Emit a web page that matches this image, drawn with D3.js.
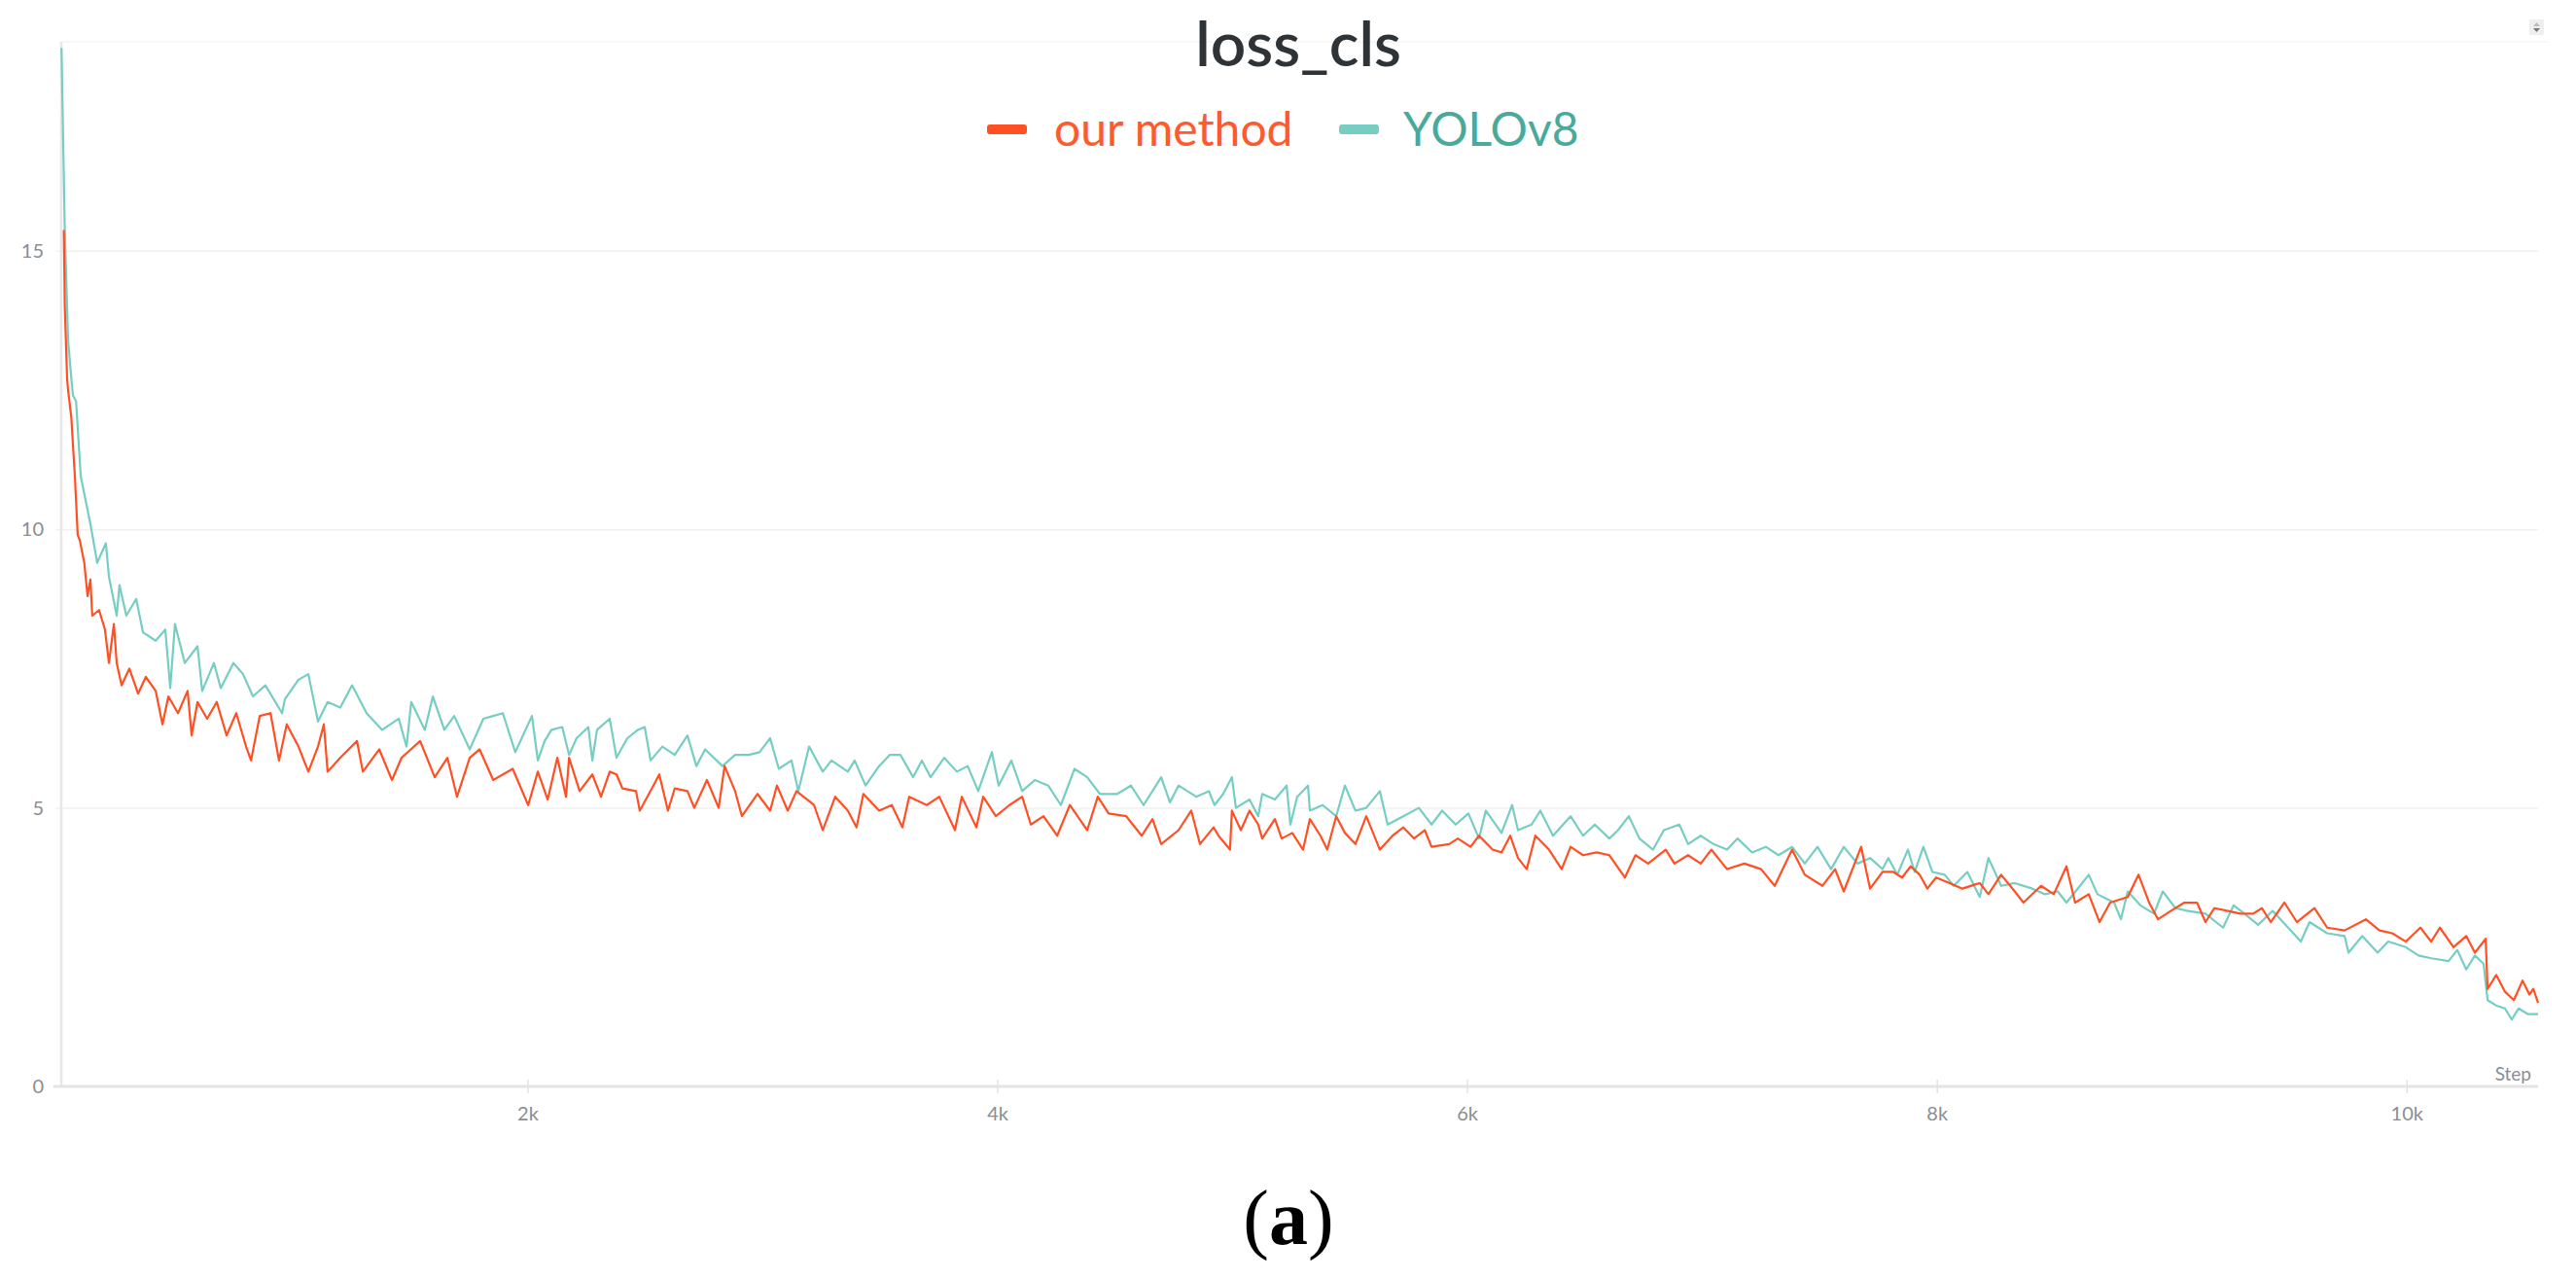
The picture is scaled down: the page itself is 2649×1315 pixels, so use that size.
<!DOCTYPE html>
<html><head><meta charset="utf-8">
<script src="https://cdn.jsdelivr.net/npm/d3@7"></script>
<style>html,body{margin:0;padding:0;background:#fff;} svg{display:block}</style>
</head><body>
<svg id="chart" width="2649" height="1315"></svg>
<script>
const chartTitle = "loss_cls";
const seriesNames = ["our method", "YOLOv8"];
const lineColors = ["#ff5024", "#76cec2"];
const legendTextColors = ["#ff5a2e", "#49a99b"];
const yTicks = [0, 5, 10, 15];
const xTicks = [2000, 4000, 6000, 8000, 10000];
const xTickLabels = ["2k", "4k", "6k", "8k", "10k"];
const xAxisLabel = "Step";

// [step, value]
const ourMethod = [
[26,15.37],[30,14.0],[40,12.7],[44,12.5],[58,12.0],[65,11.5],[73,10.95],[85,9.9],[94,9.8],[113,9.4],
[127,8.8],[139,9.1],[147,8.45],[176,8.55],[201,8.2],[218,7.6],[239,8.3],[251,7.6],[272,7.2],[305,7.5],
[342,7.05],[375,7.35],[417,7.1],[446,6.5],[471,7.0],[512,6.7],[553,7.1],[570,6.3],[595,6.9],[636,6.6],
[677,6.9],[719,6.3],[760,6.7],[802,6.1],[823,5.85],[860,6.65],[906,6.7],[942,5.85],[975,6.5],[1025,6.1],
[1067,5.65],[1108,6.1],[1133,6.5],[1149,5.65],[1203,5.9],[1274,6.2],[1299,5.65],[1369,6.05],[1423,5.5],[1464,5.9],
[1543,6.2],[1605,5.55],[1659,5.9],[1700,5.2],[1754,5.9],[1796,6.05],[1854,5.5],[1937,5.7],[2003,5.05],[2044,5.65],
[2086,5.15],[2127,5.9],[2164,5.2],[2177,5.9],[2222,5.3],[2276,5.6],[2313,5.2],[2350,5.65],[2379,5.6],[2404,5.35],
[2462,5.3],[2478,4.95],[2536,5.4],[2561,5.6],[2598,4.95],[2627,5.35],[2681,5.3],[2710,5.0],[2764,5.5],[2814,5.0],
[2839,5.75],[2884,5.3],[2913,4.85],[2979,5.25],[3033,4.95],[3062,5.4],[3108,4.95],[3145,5.3],[3220,5.05],[3257,4.6],
[3310,5.2],[3364,4.95],[3401,4.65],[3430,5.25],[3497,4.95],[3551,5.05],[3596,4.65],[3625,5.2],[3700,5.05],[3753,5.2],
[3820,4.6],[3849,5.2],[3911,4.65],[3940,5.2],[3994,4.85],[4052,5.05],[4106,5.2],[4143,4.7],[4197,4.85],[4255,4.5],
[4309,5.05],[4383,4.6],[4428,5.2],[4474,4.9],[4549,4.85],[4615,4.5],[4661,4.8],[4698,4.35],[4772,4.6],[4826,4.95],
[4863,4.35],[4921,4.65],[4942,4.5],[4991,4.25],[4999,4.95],[5037,4.6],[5074,4.95],[5111,4.7],[5128,4.45],[5182,4.8],
[5211,4.45],[5256,4.55],[5302,4.25],[5331,4.8],[5376,4.5],[5405,4.25],[5443,4.85],[5480,4.55],[5525,4.35],[5571,4.85],
[5629,4.25],[5683,4.5],[5729,4.65],[5774,4.45],[5820,4.6],[5849,4.3],[5924,4.35],[5961,4.45],[6015,4.3],[6051,4.5],
[6109,4.25],[6147,4.2],[6184,4.5],[6217,4.1],[6254,3.9],[6291,4.5],[6349,4.25],[6403,3.9],[6441,4.3],[6494,4.15],
[6552,4.2],[6606,4.15],[6672,3.75],[6717,4.15],[6771,4.0],[6846,4.25],[6883,4.0],[6941,4.15],[6995,4.0],[7040,4.25],
[7107,3.9],[7181,4.0],[7252,3.9],[7310,3.6],[7384,4.25],[7438,3.8],[7513,3.6],[7567,3.9],[7604,3.5],[7678,4.3],
[7716,3.55],[7769,3.85],[7815,3.85],[7852,3.75],[7889,3.95],[7927,3.8],[7960,3.55],[7997,3.75],[8055,3.65],[8109,3.55],
[8183,3.65],[8220,3.45],[8274,3.8],[8332,3.5],[8369,3.3],[8444,3.6],[8498,3.45],[8552,3.95],[8589,3.3],[8647,3.45],
[8693,2.95],[8738,3.3],[8813,3.4],[8859,3.8],[8904,3.3],[8942,3.0],[8996,3.15],[9054,3.3],[9108,3.3],[9144,2.95],
[9182,3.2],[9240,3.15],[9293,3.1],[9347,3.1],[9384,3.2],[9422,2.95],[9480,3.3],[9533,2.95],[9608,3.2],[9662,2.85],
[9736,2.8],[9827,3.0],[9885,2.8],[9939,2.75],[9997,2.6],[10059,2.85],[10105,2.6],[10142,2.85],[10200,2.5],[10254,2.7],
[10291,2.4],[10337,2.65],[10345,1.75],[10382,2.0],[10419,1.7],[10457,1.55],[10494,1.9],[10523,1.65],[10540,1.75],[10560,1.5]
];

const yolov8 = [
[16,18.64],[30,15.37],[44,13.4],[58,12.7],[65,12.4],[78,12.3],[98,10.95],[139,10.1],[168,9.4],[205,9.75],
[218,9.15],[251,8.45],[263,9.0],[292,8.45],[334,8.75],[363,8.15],[417,8.0],[458,8.2],[479,7.15],[499,8.3],
[541,7.6],[595,7.9],[615,7.1],[665,7.6],[694,7.15],[748,7.6],[789,7.4],[831,7.0],[884,7.2],[955,6.7],
[967,6.95],[1025,7.3],[1067,7.4],[1108,6.55],[1149,6.9],[1203,6.8],[1253,7.2],[1315,6.7],[1381,6.4],[1452,6.6],
[1485,6.1],[1505,6.9],[1563,6.4],[1597,7.0],[1646,6.4],[1688,6.65],[1754,6.05],[1812,6.6],[1895,6.7],[1948,6.0],
[2019,6.65],[2044,5.85],[2073,6.2],[2102,6.4],[2148,6.45],[2177,5.95],[2209,6.25],[2259,6.45],[2276,5.85],[2296,6.4],
[2350,6.6],[2379,5.9],[2425,6.25],[2470,6.4],[2499,6.45],[2524,5.85],[2574,6.1],[2627,5.95],[2681,6.3],[2719,5.75],
[2756,6.05],[2830,5.75],[2884,5.95],[2942,5.95],[2988,6.0],[3033,6.25],[3070,5.7],[3124,5.85],[3153,5.3],[3199,6.1],
[3257,5.65],[3294,5.85],[3364,5.65],[3393,5.85],[3439,5.4],[3497,5.75],[3542,5.95],[3588,5.95],[3642,5.55],[3679,5.85],
[3716,5.55],[3774,5.9],[3828,5.65],[3874,5.75],[3919,5.3],[3977,6.0],[4006,5.4],[4060,5.85],[4106,5.3],[4160,5.5],
[4217,5.4],[4271,5.05],[4329,5.7],[4383,5.55],[4437,5.25],[4511,5.25],[4569,5.4],[4623,5.05],[4698,5.55],[4735,5.1],
[4772,5.4],[4847,5.2],[4901,5.3],[4925,5.05],[4962,5.25],[4999,5.55],[5016,5.0],[5074,5.15],[5111,4.85],[5128,5.25],
[5182,5.15],[5232,5.4],[5248,4.7],[5277,5.2],[5323,5.4],[5331,4.95],[5385,5.05],[5443,4.85],[5480,5.4],[5525,4.95],
[5571,5.0],[5629,5.3],[5662,4.7],[5729,4.85],[5795,5.0],[5849,4.7],[5894,4.95],[5952,4.7],[6006,4.9],[6051,4.45],
[6080,4.95],[6147,4.55],[6192,5.05],[6217,4.6],[6275,4.7],[6312,4.95],[6366,4.5],[6441,4.85],[6494,4.5],[6544,4.7],
[6606,4.45],[6643,4.6],[6689,4.85],[6734,4.45],[6792,4.25],[6838,4.6],[6904,4.7],[6941,4.35],[6995,4.5],[7049,4.35],
[7107,4.25],[7152,4.45],[7214,4.2],[7272,4.3],[7326,4.15],[7384,4.3],[7438,4.0],[7492,4.3],[7550,3.9],[7604,4.3],
[7662,4.0],[7716,4.1],[7769,3.9],[7794,4.1],[7832,3.8],[7877,4.25],[7906,3.85],[7943,4.3],[7981,3.85],[8034,3.8],
[8072,3.6],[8130,3.85],[8183,3.4],[8220,4.1],[8274,3.6],[8332,3.65],[8407,3.55],[8461,3.45],[8515,3.5],[8552,3.3],
[8610,3.6],[8647,3.8],[8684,3.45],[8755,3.3],[8784,3.0],[8813,3.5],[8867,3.25],[8925,3.1],[8962,3.5],[9016,3.2],
[9070,3.15],[9144,3.1],[9219,2.85],[9264,3.25],[9310,3.1],[9368,2.9],[9430,3.15],[9496,2.85],[9550,2.6],[9587,2.95],
[9662,2.75],[9736,2.7],[9753,2.4],[9811,2.7],[9877,2.4],[9922,2.6],[9997,2.5],[10051,2.35],[10105,2.3],[10179,2.25],
[10216,2.45],[10254,2.1],[10291,2.35],[10328,2.2],[10345,1.55],[10382,1.45],[10419,1.4],[10448,1.2],[10477,1.4],[10515,1.3],[10560,1.3]
];

const svg = d3.select("#chart");
const plotLeft = 63, plotRight = 2610, plotTop = 43, plotBottom = 1117;
const x = d3.scaleLinear().domain([15, 10560]).range([plotLeft, plotRight]);
const y = d3.scaleLinear().domain([0, 18.75]).range([plotBottom, plotTop]);
const font = "Lato, 'Source Sans Pro', 'Noto Sans', sans-serif";

// faint top border
svg.append("line").attr("x1", plotLeft).attr("x2", plotRight + 10).attr("y1", plotTop).attr("y2", plotTop)
  .attr("stroke", "#f4f4f4").attr("stroke-width", 1.5);

// y axis with gridlines
const yAxis = svg.append("g").attr("transform", `translate(${plotLeft},0)`)
  .call(d3.axisLeft(y).tickValues(yTicks).tickSizeInner(-(plotRight - plotLeft)).tickSizeOuter(0).tickPadding(18));
yAxis.select(".domain").remove();
yAxis.selectAll(".tick line").attr("stroke", d => d === 0 ? "none" : "#f1f1f1").attr("stroke-width", 1.5).attr("x1", -6);
yAxis.selectAll(".tick text").attr("font-family", font).attr("font-size", 20).attr("fill", "#8a8e93");

// y axis line
svg.append("line").attr("x1", plotLeft).attr("x2", plotLeft).attr("y1", plotTop).attr("y2", plotBottom)
  .attr("stroke", "#e7e7e7").attr("stroke-width", 2.5);

// x axis
const xAxis = svg.append("g").attr("transform", `translate(0,${plotBottom})`)
  .call(d3.axisBottom(x).tickValues(xTicks).tickFormat((d, i) => xTickLabels[i]).tickSizeInner(7).tickSizeOuter(0).tickPadding(14));
xAxis.select(".domain").remove();
xAxis.selectAll(".tick line").attr("y1", -7).attr("stroke", "#dcdcdc").attr("stroke-width", 1.2);
xAxis.selectAll(".tick text").attr("font-family", font).attr("font-size", 20).attr("fill", "#8a8e93");
svg.append("line").attr("x1", plotLeft - 8).attr("x2", plotRight).attr("y1", plotBottom).attr("y2", plotBottom)
  .attr("stroke", "#e4e4e4").attr("stroke-width", 3);

svg.append("text").attr("x", 2603).attr("y", 1111).attr("text-anchor", "end")
  .attr("font-family", font).attr("font-size", 19).attr("fill", "#8a8e93").text(xAxisLabel);

// lines
const line = d3.line().x(d => x(d[0])).y(d => y(d[1]));
const seriesData = [ourMethod, yolov8];
[1, 0].forEach(i => {
  svg.append("path").datum(seriesData[i]).attr("d", line).attr("fill", "none")
    .attr("stroke", lineColors[i]).attr("stroke-width", 2.2).attr("stroke-linejoin", "round");
});

// title
svg.append("text").attr("x", 1335).attr("y", 68).attr("text-anchor", "middle")
  .attr("font-family", font).attr("font-size", 64).attr("font-weight", 600).attr("fill", "#2e3338").text(chartTitle);

// legend
const legendPos = [{dash: 1015, text: 1084}, {dash: 1377, text: 1443}];
seriesNames.forEach((name, i) => {
  svg.append("rect").attr("x", legendPos[i].dash).attr("y", 128).attr("width", 41).attr("height", 10)
    .attr("rx", 3).attr("fill", lineColors[i]);
  svg.append("text").attr("x", legendPos[i].text).attr("y", 150)
    .attr("font-family", font).attr("font-size", 48).attr("fill", legendTextColors[i]).text(name);
});

// small corner icon
const ic = svg.append("g").attr("transform", "translate(2601,20)");
ic.append("rect").attr("width", 15).attr("height", 16).attr("fill", "#efefef");
ic.append("path").attr("d", "M4,7 L7.5,3 L11,7 Z").attr("fill", "#bdbdbd");
ic.append("path").attr("d", "M4,9 L7.5,13 L11,9 Z").attr("fill", "#777");

// panel label
const lab = svg.append("text").attr("x", 1325).attr("y", 1279).attr("text-anchor", "middle")
  .attr("font-family", "'Liberation Serif', 'Times New Roman', serif").attr("font-size", 80).attr("fill", "#000");
lab.append("tspan").text("(");
lab.append("tspan").attr("font-weight", "bold").text("a");
lab.append("tspan").text(")");
</script>
</body></html>
